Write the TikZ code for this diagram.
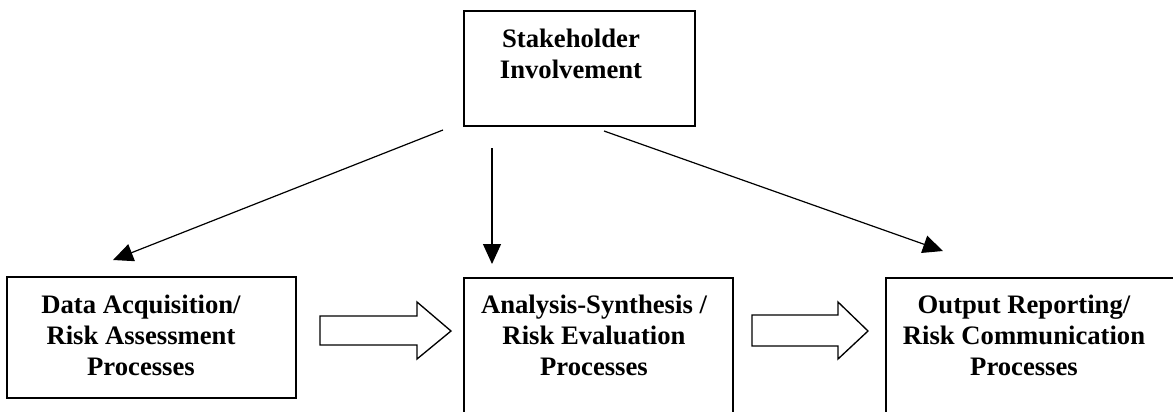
\documentclass[tikz,border=0pt]{standalone}
\usepackage{fontspec}
\setmainfont{Liberation Serif}
\usetikzlibrary{arrows.meta,positioning}

\begin{document}
\begin{tikzpicture}[x=0.75pt,y=-0.75pt,
  procbox/.style={draw,line width=1.1pt,inner sep=0pt},
  boxtext/.style={anchor=north,align=center,inner sep=0pt,font=\bfseries\fontsize{20}{23.25}\selectfont},
  feed/.style={line width=0.9pt,-{Triangle[length=15pt,width=13.5pt]}},
  blockarrow/.style={draw,fill=white,line width=1pt,line join=miter}]
\useasboundingbox (0,0) rectangle (1173,411);
% boxes
\node[procbox,minimum width=173.25pt,minimum height=86.25pt] (stake) at (579.5,68.5) {};
\node[procbox,minimum width=216.75pt,minimum height=90.75pt] (acq) at (151.5,337.5) {};
\node[procbox,minimum width=201.75pt,minimum height=112.5pt] (anal) at (598.5,353) {};
\node[procbox,minimum width=225pt,minimum height=112.5pt] (report) at (1036,353) {};
% texts
\node[boxtext] (staketext) at (571,29) {Stakeholder\\Involvement};
\node[boxtext] (acqtext) at (141,295) {Data Acquisition/\\Risk Assessment\\Processes};
\node[boxtext] (analtext) at (594,295) {Analysis-Synthesis /\\Risk Evaluation\\Processes};
\node[boxtext] (reporttext) at (1024,295) {Output Reporting/\\Risk Communication\\Processes};
% arrows from stakeholder box
\coordinate (acqfrom) at (443,130);
\coordinate (acqto) at (113,260);
\coordinate (analfrom) at (492,148);
\coordinate (analto) at (492,264);
\coordinate (reportfrom) at (604,131);
\coordinate (reportto) at (943,251);
\draw[feed] (acqfrom) -- (acqto);
\draw[feed] (analfrom) -- (analto);
\draw[feed] (reportfrom) -- (reportto);
% block arrows between processes
\draw[blockarrow] (320,316) -- (417,316) -- (417,302) -- (451,331) -- (417,359) -- (417,345) -- (320,345) -- cycle;
\draw[blockarrow] (752,315) -- (838,315) -- (838,302) -- (868,331) -- (838,359) -- (838,346) -- (752,346) -- cycle;
\end{tikzpicture}
\end{document}
